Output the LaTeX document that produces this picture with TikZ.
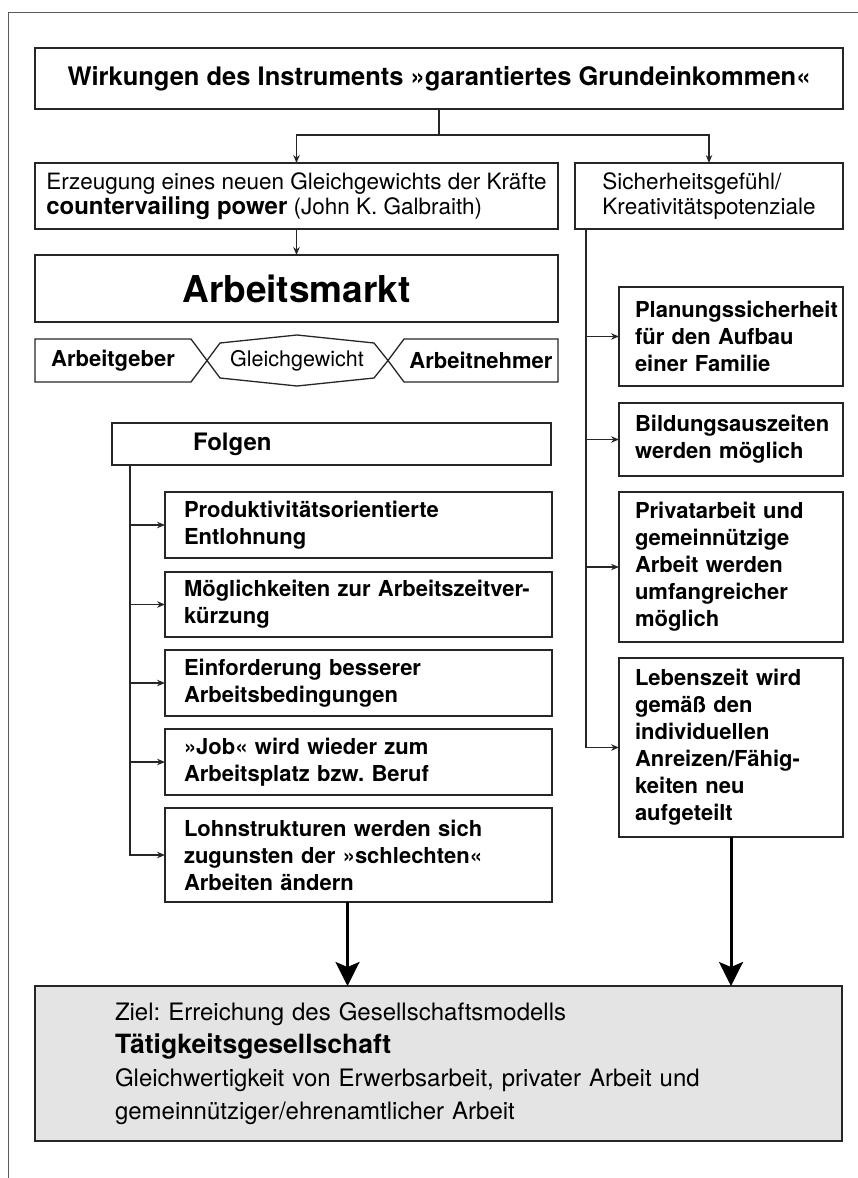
\documentclass[tikz,border=0pt]{standalone}
\usepackage{fontspec}
\setmainfont{TeX Gyre Heros}
\usetikzlibrary{arrows.meta}
\definecolor{BoxLine}{HTML}{262626}
\definecolor{GoalFill}{HTML}{E4E4E4}
\definecolor{FrameGray}{HTML}{5A5A5A}
\hyphenpenalty=10000
\exhyphenpenalty=10000
\frenchspacing
\tikzset{
    frame/.style={draw=BoxLine, line width=1.3pt, anchor=north west, outer sep=0pt, inner ysep=0pt, align=left},
    leftbox/.style={frame, inner xsep=19pt, text width=349pt, minimum height=#1, font=\bfseries\fontsize{22}{27}\selectfont},
    rightbox/.style={frame, inner xsep=16pt, text width=192pt, minimum height=#1, font=\bfseries\fontsize{22}{27}\selectfont},
    hexlabel/.style={inner sep=0pt, font=\fontsize{21.5}{24}\selectfont},
    sarrow/.style={BoxLine, line width=1.3pt, -{Stealth[length=8pt, width=6.5pt]}},
    barrow/.style={black, line width=3pt, -{Stealth[length=24pt, width=24pt, inset=5pt]}},
}
\begin{document}
\begin{tikzpicture}[x=1pt, y=-1pt]
    \useasboundingbox (0,0) rectangle (858,1178);
    % Rahmen oben und links
    \draw[FrameGray, line width=1pt] (8,1178) -- (8,12) -- (858,12);
    % Kopfzeile
    \node[frame, align=center, minimum width=808pt, minimum height=61pt, font=\bfseries\fontsize{25.5}{30}\selectfont] (title) at (35,48) {Wirkungen des Instruments »garantiertes Grundeinkommen«};
    % zwei Zweige
    \node[frame, minimum width=523pt, minimum height=66pt, font=\fontsize{22.5}{25}\selectfont] (erz) at (35,163) {Erzeugung eines neuen Gleichgewichts der Kräfte\\{\bfseries\fontsize{24}{25}\selectfont countervailing power} (John K. Galbraith)};
    \node[frame, minimum width=268pt, minimum height=66pt, font=\fontsize{22.5}{25}\selectfont] (sich) at (575,163) {Sicherheitsgefühl/\\Kreativitätspotenziale};
    \draw[BoxLine, line width=1.3pt] (title.south) -- ++(0,26) coordinate (split);
    \draw[sarrow] (split) -| (erz.north);
    \draw[sarrow] (split) -| (sich.north);
    % Arbeitsmarkt
    \node[frame, align=center, minimum width=523pt, minimum height=67pt, font=\bfseries\fontsize{37}{40}\selectfont] (markt) at (35,255) {Arbeitsmarkt};
    \draw[sarrow] (erz.south) -- (markt.north);
    % Gleichgewicht der Marktseiten
    \draw[BoxLine, line width=1.3pt] (35,339) -- (191,339) -- (207,360.5) -- (191,382) -- (35,382) -- cycle;
    \draw[BoxLine, line width=1.3pt] (207,360.5) -- (220,343) -- (297,335) -- (374,343) -- (388,360.5) -- (374,378) -- (297,386) -- (220,378) -- cycle;
    \draw[BoxLine, line width=1.3pt] (388,360.5) -- (404,339) -- (558,339) -- (558,382) -- (404,382) -- cycle;
    \node[hexlabel, font=\bfseries\fontsize{22}{24}\selectfont] (geber) at (113,360.5) {Arbeitgeber};
    \node[hexlabel] (gleich) at (297,360.5) {Gleichgewicht};
    \node[hexlabel, font=\bfseries\fontsize{22}{24}\selectfont] (nehmer) at (481,360.5) {Arbeitnehmer};
    % Folgen
    \node[frame, inner xsep=81pt, text width=277pt, minimum height=42pt, font=\bfseries\fontsize{24}{26}\selectfont] (folgen) at (112,423) {Folgen};
    \node[leftbox=66pt] (prod) at (165,492) {Produktivitätsorientierte\\Entlohnung};
    \node[leftbox=65pt] (zeit) at (165,572) {Möglichkeiten zur Arbeitszeitver-\\kürzung};
    \node[leftbox=66pt] (bed) at (165,650) {Einforderung besserer\\Arbeitsbedingungen};
    \node[leftbox=66pt] (job) at (165,729) {»Job« wird wieder zum\\Arbeitsplatz bzw. Beruf};
    \node[leftbox=94pt] (lohn) at (165,808) {Lohnstrukturen werden sich\\zugunsten der »schlechten«\\Arbeiten ändern};
    \coordinate (ltop) at ([xshift=18pt]folgen.south west);
    \draw[sarrow] (ltop) |- (lohn.west);
    \draw[sarrow] (ltop |- prod.west) -- (prod.west);
    \draw[sarrow] (ltop |- zeit.west) -- (zeit.west);
    \draw[sarrow] (ltop |- bed.west) -- (bed.west);
    \draw[sarrow] (ltop |- job.west) -- (job.west);
    % rechter Zweig
    \node[rightbox=99pt] (plan) at (619,287) {Planungssicherheit\\für den Aufbau\\einer Familie};
    \node[rightbox=73pt] (bild) at (619,403) {Bildungsauszeiten\\werden möglich};
    \node[rightbox=150pt] (priv) at (619,492) {Privatarbeit und\\gemeinnützige\\Arbeit werden\\umfangreicher\\möglich};
    \node[rightbox=179pt] (leben) at (619,658) {Lebenszeit wird\\gemäß den\\individuellen\\Anreizen/Fähig-\\keiten neu\\aufgeteilt};
    \coordinate (rtop) at ([xshift=11pt]sich.south west);
    \draw[sarrow] (rtop) |- (leben.west);
    \draw[sarrow] (rtop |- plan.west) -- (plan.west);
    \draw[sarrow] (rtop |- bild.west) -- (bild.west);
    \draw[sarrow] (rtop |- priv.west) -- (priv.west);
    % Ziel
    \node[frame, fill=GoalFill, inner xsep=80pt, text width=647pt, minimum height=155pt, font=\fontsize{24}{33}\selectfont] (goal) at (35,986) {Ziel: Erreichung des Gesellschaftsmodells\\{\bfseries\fontsize{26.5}{33}\selectfont Tätigkeitsgesellschaft}\\Gleichwertigkeit von Erwerbsarbeit, privater Arbeit und\\gemeinnütziger/ehrenamtlicher Arbeit};
    \coordinate (lfoot) at ([xshift=-11pt]lohn.south);
    \draw[barrow] (lfoot) -- (lfoot |- goal.north);
    \draw[barrow] (leben.south) -- (leben.south |- goal.north);
\end{tikzpicture}
\end{document}
